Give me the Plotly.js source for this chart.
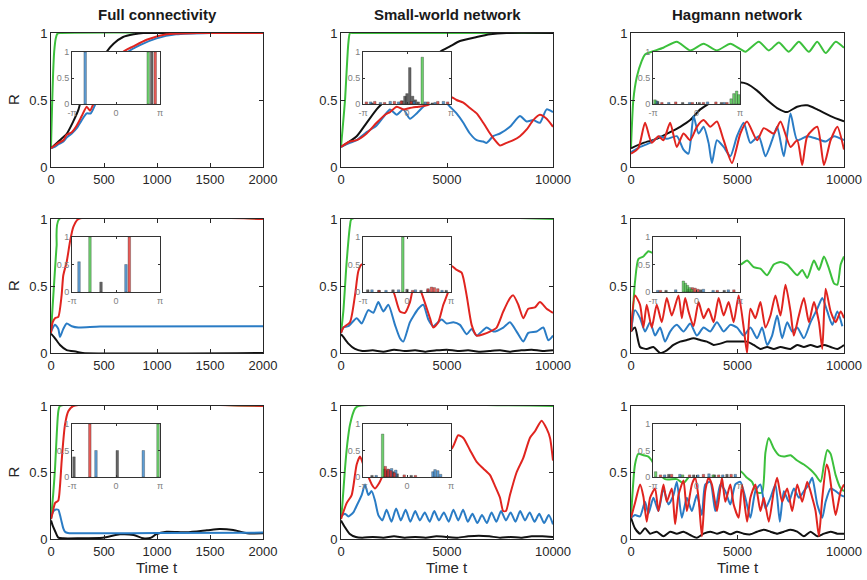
<!DOCTYPE html>
<html><head><meta charset="utf-8">
<script src="https://cdn.plot.ly/plotly-3.0.1.min.js"></script>
<style>html,body{margin:0;padding:0;background:#fff}#chart{width:867px;height:580px}</style>
</head><body><div id="chart"></div>
<script>
// ---------------- DATA ----------------
const colTitles = ['Full connectivity', 'Small-world network', 'Hagmann network'];
const xTicksFull = [0, 500, 1000, 1500, 2000];
const xTicksNet = [0, 5000, 10000];
const yTicks = [0, 0.5, 1];
const yTickText = ['0', '0.5', '1'];
const phaseTicks = ['-π', '0', 'π'];

// Row 1, Full connectivity
const fc1_green_t = [0, 10, 20, 30, 45, 60, 80, 2000];
const fc1_green_R = [0.15, 0.45, 0.7, 0.86, 0.96, 0.995, 1, 1];
const fc1_black_t = [0, 70, 150, 210, 260, 274, 350, 450, 525, 590, 680, 780, 870, 1000, 2000];
const fc1_black_R = [0.14, 0.19, 0.25, 0.34, 0.43, 0.47, 0.6, 0.76, 0.86, 0.92, 0.97, 0.99, 1, 1, 1];
const fc1_blue_t = [0, 35, 70, 117, 148, 196, 243, 290, 337, 375, 420, 500, 600, 729, 839, 996, 1180, 1500, 2000];
const fc1_blue_R = [0.14, 0.15, 0.17, 0.19, 0.22, 0.25, 0.29, 0.35, 0.4, 0.4, 0.47, 0.58, 0.72, 0.86, 0.91, 0.96, 0.99, 1, 1];
const fc1_red_t = [0, 35, 70, 117, 148, 196, 243, 290, 337, 368, 400, 500, 600, 682, 776, 902, 1090, 1400, 2000];
const fc1_red_R = [0.14, 0.16, 0.18, 0.2, 0.24, 0.26, 0.31, 0.38, 0.45, 0.42, 0.47, 0.6, 0.76, 0.86, 0.9, 0.95, 0.99, 1, 1];

// Row 1, Small-world
const sw1_green_t = [0, 100, 190, 345, 424, 600, 10000];
const sw1_green_R = [0.15, 0.33, 0.5, 0.92, 1, 1, 1];
const sw1_black_t = [0, 740, 1210, 1680, 1920, 2500, 3200, 4000, 4670, 5140, 5610, 6400, 7030, 7810, 10000];
const sw1_black_R = [0.15, 0.23, 0.33, 0.43, 0.47, 0.57, 0.68, 0.79, 0.86, 0.9, 0.94, 0.97, 0.99, 1, 1];
const sw1_blue_t = [0, 420, 740, 1210, 1680, 2080, 2310, 2630, 2940, 3250, 3570, 3880, 4200, 4510, 4830, 5140, 5450, 5770, 6080, 6400, 6710, 6870, 7180, 7500, 7970, 8440, 8760, 9070, 9380, 9700, 10000];
const sw1_blue_R = [0.15, 0.18, 0.2, 0.26, 0.31, 0.39, 0.43, 0.39, 0.43, 0.36, 0.4, 0.45, 0.49, 0.48, 0.5, 0.45, 0.4, 0.33, 0.25, 0.2, 0.19, 0.18, 0.23, 0.25, 0.3, 0.38, 0.34, 0.35, 0.33, 0.43, 0.41];
const sw1_red_t = [0, 420, 740, 1210, 1680, 2080, 2310, 2630, 2940, 3250, 3650, 4040, 4350, 4830, 5220, 5450, 5770, 6080, 6400, 6710, 7030, 7260, 7500, 7810, 8130, 8440, 8760, 9070, 9380, 9700, 10000];
const sw1_red_R = [0.15, 0.19, 0.2, 0.25, 0.33, 0.39, 0.41, 0.45, 0.43, 0.44, 0.45, 0.46, 0.48, 0.49, 0.52, 0.5, 0.48, 0.44, 0.4, 0.33, 0.25, 0.2, 0.16, 0.18, 0.2, 0.23, 0.28, 0.35, 0.39, 0.36, 0.3];

// Row 1, Hagmann
const hg1_green_t = [0, 110, 270, 500, 660, 970, 1520, 2150, 2780, 3410, 4030, 4660, 5134, 5370, 6000, 6470, 6940, 7410, 7880, 8350, 8745, 9140, 9610, 10000];
const hg1_green_R = [0.15, 0.5, 0.67, 0.79, 0.84, 0.86, 0.89, 0.935, 0.87, 0.92, 0.87, 0.92, 0.88, 0.86, 0.935, 0.87, 0.93, 0.86, 0.935, 0.86, 0.935, 0.85, 0.935, 0.89];
const hg1_black_t = [0, 580, 1210, 1840, 2310, 2780, 3250, 3720, 4400, 5130, 5450, 5920, 6390, 6860, 7330, 7800, 8270, 8740, 9370, 10000];
const hg1_black_R = [0.14, 0.18, 0.21, 0.26, 0.3, 0.35, 0.43, 0.48, 0.56, 0.63, 0.62, 0.57, 0.5, 0.44, 0.41, 0.45, 0.46, 0.43, 0.38, 0.34];
const hg1_blue_t = [0, 424, 895, 1366, 1680, 2150, 2465, 2700, 2936, 3171, 3407, 3642, 3800, 4035, 4349, 4663, 4977, 5291, 5605, 5997, 6311, 6625, 6861, 7175, 7489, 7803, 8274, 8745, 9137, 9530, 10000];
const hg1_blue_R = [0.11, 0.15, 0.18, 0.23, 0.21, 0.23, 0.13, 0.1, 0.38, 0.25, 0.3, 0.18, 0.03, 0.2, 0.15, 0.08, 0.23, 0.33, 0.18, 0.23, 0.08, 0.2, 0.3, 0.08, 0.4, 0.2, 0.23, 0.21, 0.19, 0.23, 0.2];
const hg1_red_t = [0, 345, 660, 973, 1287, 1523, 1837, 2150, 2465, 2779, 3093, 3407, 3721, 4035, 4349, 4741, 5134, 5448, 5919, 6233, 6704, 7018, 7489, 7803, 8038, 8274, 8745, 9059, 9373, 9687, 10000];
const hg1_red_R = [0.1, 0.14, 0.33, 0.18, 0.23, 0.2, 0.33, 0.15, 0.25, 0.2, 0.3, 0.35, 0.3, 0.34, 0.2, 0.03, 0.25, 0.34, 0.2, 0.29, 0.25, 0.34, 0.15, 0.2, 0.015, 0.23, 0.3, 0.015, 0.2, 0.3, 0.13];

// Row 2, Full connectivity
const fc2_green_t = [0, 10, 22, 40, 53, 78, 2000];
const fc2_green_R = [0.15, 0.28, 0.43, 0.65, 0.8, 1, 1];
const fc2_black_t = [0, 38, 85, 148, 242, 300, 2000];
const fc2_black_R = [0.145, 0.11, 0.06, 0.022, 0.01, 0.0, 0.0];
const fc2_blue_t = [0, 38, 69, 85, 116, 148, 196, 258, 462, 2000];
const fc2_blue_R = [0.16, 0.21, 0.18, 0.12, 0.18, 0.22, 0.2, 0.19, 0.197, 0.2];
const fc2_red_t = [0, 16, 38, 69, 100, 116, 148, 179, 210, 258, 2000];
const fc2_red_R = [0.15, 0.23, 0.26, 0.27, 0.43, 0.58, 0.68, 0.83, 0.94, 1, 1];

// Row 2, Small-world
const sw2_green_t = [0, 110, 267, 424, 500, 10000];
const sw2_green_R = [0.15, 0.31, 0.68, 0.95, 1, 1];
const sw2_black_t = [0, 110, 350, 660, 1000, 1500, 2000, 2500, 3000, 3500, 4000, 4500, 5000, 5500, 6000, 6500, 7000, 7500, 8000, 8500, 9000, 9500, 10000];
const sw2_black_R = [0.14, 0.12, 0.07, 0.03, 0.015, 0.02, 0.01, 0.025, 0.015, 0.02, 0.01, 0.02, 0.025, 0.015, 0.02, 0.01, 0.015, 0.02, 0.01, 0.02, 0.025, 0.015, 0.02];
const sw2_blue_t = [0, 110, 346, 739, 975, 1289, 1525, 1761, 1996, 2232, 2547, 2782, 2940, 3254, 3647, 3883, 4119, 4354, 4747, 4983, 5298, 5612, 5926, 6162, 6398, 6870, 7184, 7656, 7970, 8284, 8599, 8835, 9228, 9542, 9778, 10000];
const sw2_blue_R = [0.15, 0.19, 0.2, 0.26, 0.22, 0.32, 0.3, 0.38, 0.31, 0.36, 0.21, 0.11, 0.085, 0.23, 0.33, 0.36, 0.25, 0.2, 0.25, 0.22, 0.23, 0.21, 0.14, 0.18, 0.13, 0.19, 0.16, 0.19, 0.23, 0.16, 0.085, 0.15, 0.16, 0.19, 0.095, 0.13];
const sw2_red_t = [0, 110, 424, 660, 817, 975, 1525, 1996, 2468, 2782, 3018, 3254, 3411, 3647, 3883, 4197, 4354, 4590, 4826, 5062, 5219, 5455, 5691, 5926, 6162, 6398, 6714, 7027, 7341, 7656, 7970, 8127, 8363, 8599, 8835, 9149, 9385, 9699, 10000];
const sw2_red_R = [0.15, 0.19, 0.23, 0.43, 0.61, 0.66, 0.62, 0.55, 0.46, 0.31, 0.3, 0.38, 0.48, 0.5, 0.41, 0.26, 0.19, 0.23, 0.36, 0.46, 0.65, 0.62, 0.6, 0.43, 0.21, 0.13, 0.14, 0.16, 0.19, 0.31, 0.41, 0.43, 0.36, 0.26, 0.33, 0.34, 0.38, 0.33, 0.3];

// Row 2, Hagmann
const hg2_green_t = [0, 31, 188, 345, 580, 816, 973, 2000, 3000, 4000, 5134, 5448, 5762, 6076, 6390, 6704, 7018, 7332, 7803, 8038, 8274, 8588, 8823, 9059, 9294, 9530, 9687, 9844, 10000];
const hg2_green_R = [0.16, 0.19, 0.53, 0.7, 0.72, 0.76, 0.75, 0.72, 0.68, 0.7, 0.66, 0.69, 0.64, 0.63, 0.58, 0.66, 0.68, 0.66, 0.58, 0.62, 0.56, 0.69, 0.62, 0.72, 0.63, 0.52, 0.51, 0.66, 0.72];
const hg2_black_t = [0, 188, 424, 738, 1052, 1366, 1680, 1994, 2308, 2622, 2936, 3250, 3564, 3878, 4192, 4506, 4977, 5448, 5762, 6076, 6390, 6704, 7018, 7489, 7803, 8117, 8431, 8745, 9059, 9373, 9687, 10000];
const hg2_black_R = [0.16, 0.19, 0.045, 0.03, 0.045, 0.0, 0.02, 0.06, 0.085, 0.097, 0.11, 0.097, 0.085, 0.06, 0.07, 0.085, 0.085, 0.085, 0.06, 0.03, 0.045, 0.03, 0.045, 0.03, 0.06, 0.045, 0.06, 0.045, 0.06, 0.045, 0.03, 0.06];
const hg2_blue_t = [0, 188, 424, 659, 895, 1130, 1366, 1601, 1837, 2151, 2465, 2779, 3093, 3407, 3721, 4035, 4349, 4663, 4977, 5291, 5605, 5919, 6154, 6390, 6625, 6861, 7096, 7332, 7567, 7803, 8117, 8431, 8745, 8980, 9216, 9451, 9687, 9922];
const hg2_blue_R = [0.16, 0.32, 0.26, 0.16, 0.23, 0.13, 0.19, 0.085, 0.16, 0.21, 0.16, 0.22, 0.13, 0.19, 0.16, 0.23, 0.16, 0.21, 0.19, 0.13, 0.19, 0.11, 0.19, 0.06, 0.13, 0.28, 0.11, 0.23, 0.16, 0.19, 0.11, 0.23, 0.33, 0.41, 0.31, 0.21, 0.31, 0.2];
const hg2_red_t = [0, 188, 424, 581, 738, 973, 1209, 1444, 1680, 1915, 2229, 2386, 2543, 2700, 2936, 3171, 3407, 3642, 3878, 4113, 4349, 4584, 4820, 5055, 5291, 5448, 5605, 5840, 6076, 6311, 6547, 6782, 7018, 7253, 7489, 7646, 7881, 8117, 8352, 8588, 8823, 8980, 9137, 9373, 9608, 9844, 10000];
const hg2_red_R = [0.16, 0.43, 0.36, 0.19, 0.36, 0.19, 0.36, 0.23, 0.41, 0.28, 0.43, 0.26, 0.41, 0.31, 0.2, 0.38, 0.26, 0.33, 0.23, 0.41, 0.28, 0.38, 0.23, 0.43, 0.19, 0.0, 0.33, 0.26, 0.38, 0.19, 0.28, 0.43, 0.28, 0.51, 0.31, 0.13, 0.28, 0.41, 0.23, 0.38, 0.23, 0.03, 0.48, 0.31, 0.23, 0.31, 0.26];

// Row 3, Full connectivity
const fc3_green_t = [0, 20, 38, 55, 69, 85, 2000];
const fc3_green_R = [0.15, 0.33, 0.53, 0.8, 0.96, 1, 1];
const fc3_black_t = [0, 16, 38, 69, 116, 250, 490, 650, 780, 870, 945, 990, 1090, 1280, 1470, 1590, 1720, 1850, 2000];
const fc3_black_R = [0.14, 0.1, 0.06, 0.01, 0.005, 0.005, 0.01, 0.035, 0.03, 0.005, 0.01, 0.035, 0.055, 0.05, 0.065, 0.075, 0.067, 0.043, 0.043];
const fc3_blue_t = [0, 16, 38, 69, 85, 100, 116, 132, 160, 220, 500, 1000, 2000];
const fc3_blue_R = [0.15, 0.2, 0.22, 0.22, 0.18, 0.13, 0.08, 0.055, 0.045, 0.043, 0.043, 0.045, 0.048];
const fc3_red_t = [0, 16, 38, 69, 85, 100, 116, 132, 163, 210, 2000];
const fc3_red_R = [0.15, 0.2, 0.27, 0.29, 0.4, 0.58, 0.74, 0.86, 0.96, 1, 1];

// Row 3, Small-world
const sw3_green_t = [0, 60, 189, 300, 424, 660, 817, 10000];
const sw3_green_R = [0.15, 0.25, 0.53, 0.72, 0.86, 0.98, 1, 1];
const sw3_black_t = [0, 180, 400, 700, 1000, 1500, 2000, 2500, 3000, 3500, 4000, 4500, 5000, 5500, 6000, 6500, 7000, 7500, 8000, 8500, 9000, 9500, 10000];
const sw3_black_R = [0.14, 0.09, 0.04, 0.015, 0.01, 0.015, 0.01, 0.02, 0.01, 0.015, 0.01, 0.02, 0.015, 0.01, 0.02, 0.025, 0.02, 0.01, 0.015, 0.01, 0.02, 0.02, 0.015];
const sw3_blue_t = [0, 189, 346, 582, 739, 975, 1132, 1289, 1446, 1603, 1761, 1950, 2150, 2380, 2600, 2820, 3050, 3270, 3500, 3720, 3950, 4180, 4400, 4620, 4850, 5080, 5300, 5530, 5760, 5980, 6200, 6430, 6650, 6880, 7100, 7330, 7550, 7780, 8000, 8230, 8450, 8680, 8900, 9130, 9350, 9580, 9800, 10000];
const sw3_blue_R = [0.17, 0.19, 0.17, 0.2, 0.25, 0.33, 0.41, 0.33, 0.36, 0.29, 0.18, 0.14, 0.22, 0.13, 0.23, 0.14, 0.22, 0.13, 0.21, 0.14, 0.2, 0.13, 0.21, 0.14, 0.2, 0.13, 0.22, 0.14, 0.22, 0.13, 0.19, 0.12, 0.18, 0.12, 0.2, 0.13, 0.21, 0.14, 0.2, 0.13, 0.21, 0.14, 0.2, 0.13, 0.19, 0.12, 0.18, 0.11];
const sw3_red_t = [0, 267, 503, 739, 896, 1050, 1210, 1450, 1610, 1800, 2200, 2600, 3020, 3400, 4000, 4600, 5220, 5530, 5770, 6080, 6400, 6710, 7030, 7260, 7500, 7650, 7780, 7970, 8280, 8600, 8910, 9150, 9460, 9700, 9860, 10000];
const sw3_red_R = [0.15, 0.27, 0.33, 0.56, 0.62, 0.56, 0.5, 0.41, 0.38, 0.42, 0.55, 0.6, 0.47, 0.58, 0.65, 0.7, 0.68, 0.78, 0.76, 0.67, 0.58, 0.53, 0.48, 0.4, 0.31, 0.21, 0.21, 0.33, 0.5, 0.61, 0.76, 0.81, 0.89, 0.83, 0.76, 0.59];

// Row 3, Hagmann
const hg3_green_t = [0, 188, 345, 581, 816, 973, 1209, 1601, 2151, 2465, 2779, 3407, 4349, 5134, 5448, 5683, 5919, 6154, 6311, 6468, 6704, 6939, 7175, 7489, 7803, 8117, 8431, 8666, 8902, 9059, 9216, 9373, 9608, 9844, 10000];
const hg3_green_R = [0.16, 0.56, 0.64, 0.63, 0.62, 0.59, 0.52, 0.45, 0.45, 0.42, 0.48, 0.55, 0.5, 0.51, 0.46, 0.43, 0.35, 0.35, 0.65, 0.76, 0.68, 0.63, 0.62, 0.63, 0.59, 0.56, 0.52, 0.48, 0.43, 0.56, 0.67, 0.64, 0.48, 0.38, 0.36];
const hg3_black_t = [0, 188, 424, 659, 895, 1209, 1523, 1837, 2151, 2465, 2779, 3093, 3407, 3721, 4035, 4349, 4663, 4977, 5291, 5605, 5919, 6233, 6547, 6861, 7175, 7489, 7803, 8117, 8431, 8745, 9059, 9373, 9687, 10000];
const hg3_black_R = [0.16, 0.08, 0.04, 0.08, 0.04, 0.055, 0.02, 0.055, 0.04, 0.055, 0.03, 0.01, 0.04, 0.055, 0.04, 0.055, 0.035, 0.055, 0.04, 0.035, 0.055, 0.07, 0.055, 0.04, 0.055, 0.07, 0.055, 0.02, 0.055, 0.02, 0.04, 0.055, 0.04, 0.04];
const hg3_blue_t = [0, 188, 424, 659, 816, 1052, 1287, 1523, 1758, 1994, 2151, 2386, 2622, 2857, 3093, 3328, 3485, 3721, 3956, 4192, 4427, 4663, 4898, 5134, 5369, 5605, 5840, 6076, 6311, 6547, 6782, 6987, 7175, 7410, 7646, 7881, 8117, 8352, 8509, 8745, 8980, 9137, 9373, 9608, 9844, 10000];
const hg3_blue_R = [0.16, 0.18, 0.17, 0.28, 0.19, 0.31, 0.21, 0.38, 0.26, 0.33, 0.43, 0.16, 0.31, 0.21, 0.33, 0.18, 0.41, 0.43, 0.21, 0.41, 0.36, 0.26, 0.41, 0.43, 0.31, 0.16, 0.36, 0.41, 0.23, 0.31, 0.41, 0.13, 0.36, 0.28, 0.38, 0.31, 0.36, 0.41, 0.46, 0.26, 0.16, 0.28, 0.38, 0.36, 0.33, 0.32];
const hg3_red_t = [0, 188, 424, 581, 738, 895, 1130, 1287, 1523, 1680, 1915, 2072, 2229, 2465, 2622, 2857, 3014, 3171, 3328, 3485, 3642, 3799, 4035, 4270, 4427, 4663, 4820, 5055, 5212, 5448, 5605, 5840, 6076, 6233, 6468, 6704, 6861, 7096, 7332, 7567, 7803, 8038, 8274, 8509, 8666, 8823, 8980, 9184, 9294, 9451, 9608, 9844, 10000];
const hg3_red_R = [0.16, 0.27, 0.41, 0.32, 0.13, 0.31, 0.38, 0.21, 0.41, 0.28, 0.38, 0.11, 0.33, 0.44, 0.21, 0.41, 0.46, 0.31, 0.02, 0.36, 0.46, 0.41, 0.21, 0.46, 0.28, 0.41, 0.26, 0.16, 0.41, 0.13, 0.31, 0.41, 0.21, 0.31, 0.13, 0.36, 0.46, 0.28, 0.38, 0.21, 0.41, 0.28, 0.43, 0.31, 0.21, 0.02, 0.31, 0.56, 0.51, 0.33, 0.18, 0.36, 0.41];

// Inset phase histograms: [phase (rad), fraction]
const ins_fc1_black = [[2.55, 1]];
const ins_fc1_blue = [[-2.2, 1]];
const ins_fc1_red = [[2.8, 1]];
const ins_fc1_green = [[2.3, 1]];
const ins_sw1_black = [[-2.5, 0.02], [-0.35, 0.06], [-0.15, 0.15], [0.0, 0.2], [0.2, 0.7], [0.4, 0.15], [0.6, 0.08], [0.8, 0.04], [1.8, 0.02]];
const ins_sw1_blue = [[-2.6, 0.04], [-1.9, 0.03], [-1.2, 0.05], [-0.6, 0.04], [0.5, 0.05], [1.3, 0.04], [2.0, 0.03], [2.6, 0.05]];
const ins_sw1_red = [[-2.9, 0.04], [-2.3, 0.05], [-1.6, 0.03], [-0.9, 0.05], [-0.4, 0.06], [0.3, 0.05], [1.5, 0.04], [2.2, 0.05], [2.9, 0.04]];
const ins_sw1_green = [[1.09, 0.9]];
const ins_hg1_black = [[-2.8, 0.05], [-1.0, 0.03], [0.2, 0.03], [1.8, 0.03]];
const ins_hg1_blue = [[-2.9, 0.06], [-2.0, 0.03], [-0.5, 0.03], [0.8, 0.04], [2.0, 0.03]];
const ins_hg1_red = [[-2.5, 0.03], [-1.5, 0.04], [-0.3, 0.03], [0.5, 0.03], [1.4, 0.04], [2.2, 0.03]];
const ins_hg1_green = [[-3.0, 0.08], [2.5, 0.1], [2.7, 0.2], [2.9, 0.25], [3.05, 0.18]];
const ins_fc2_black = [[-1.07, 0.18]];
const ins_fc2_blue = [[-2.64, 0.55], [0.71, 0.5]];
const ins_fc2_red = [[0.95, 1]];
const ins_fc2_green = [[-1.86, 1]];
const ins_sw2_black = [[-2.8, 0.04], [-2.0, 0.03], [-1.0, 0.04], [0.0, 0.05], [1.0, 0.03], [2.8, 0.03]];
const ins_sw2_blue = [[-2.5, 0.04], [-1.5, 0.03], [-0.6, 0.04], [0.6, 0.04], [1.5, 0.04], [2.5, 0.03]];
const ins_sw2_red = [[-2.0, 0.03], [0.4, 0.03], [1.5, 0.06], [1.75, 0.09], [1.95, 0.08], [2.2, 0.06]];
const ins_sw2_green = [[-0.3, 1]];
const ins_hg2_black = [[-2.2, 0.03], [-0.6, 0.05], [0.3, 0.04], [2.0, 0.03]];
const ins_hg2_blue = [[-2.8, 0.03], [-1.5, 0.04], [0.5, 0.05], [1.2, 0.03], [2.3, 0.04]];
const ins_hg2_red = [[-2.6, 0.03], [-0.3, 0.08], [-0.1, 0.07], [0.1, 0.05], [1.5, 0.03], [2.7, 0.04]];
const ins_hg2_green = [[-0.95, 0.2], [-0.8, 0.16], [-0.65, 0.12], [-0.5, 0.08], [-0.35, 0.05]];
const ins_fc3_black = [[-3.0, 0.38], [0.09, 0.5]];
const ins_fc3_blue = [[-1.43, 0.5], [1.95, 0.5]];
const ins_fc3_red = [[-1.87, 1]];
const ins_fc3_green = [[3.0, 1]];
const ins_sw3_black = [[-2.5, 0.03], [-1.6, 0.15], [-1.4, 0.12], [-1.0, 0.1], [-0.7, 0.06], [0.3, 0.03]];
const ins_sw3_blue = [[-2.2, 0.03], [-1.3, 0.14], [-1.1, 0.16], [-0.8, 0.13], [1.85, 0.1], [2.0, 0.14], [2.2, 0.12], [2.4, 0.05]];
const ins_sw3_red = [[-1.55, 0.2], [-1.35, 0.15], [-1.15, 0.12], [-0.9, 0.08], [-0.2, 0.04], [0.6, 0.03]];
const ins_sw3_green = [[-1.74, 0.81]];
const ins_hg3_black = [[-2.0, 0.05], [-0.2, 0.04], [1.3, 0.04], [2.2, 0.05]];
const ins_hg3_blue = [[-2.3, 0.04], [-1.2, 0.05], [0.1, 0.04], [0.9, 0.06], [1.9, 0.04], [2.8, 0.05]];
const ins_hg3_red = [[-2.6, 0.04], [-1.8, 0.05], [-0.5, 0.04], [0.5, 0.05], [1.6, 0.04], [2.5, 0.05]];
const ins_hg3_green = [[-2.95, 0.1], [-1.0, 0.04], [1.2, 0.04]];

// ---------------- ASSEMBLY ----------------
const panels = [
  {xr: 2000, xt: xTicksFull, t: {green: fc1_green_t, black: fc1_black_t, blue: fc1_blue_t, red: fc1_red_t}, R: {green: fc1_green_R, black: fc1_black_R, blue: fc1_blue_R, red: fc1_red_R}, ins: {black: ins_fc1_black, blue: ins_fc1_blue, red: ins_fc1_red, green: ins_fc1_green}},
  {xr: 10000, xt: xTicksNet, t: {green: sw1_green_t, black: sw1_black_t, blue: sw1_blue_t, red: sw1_red_t}, R: {green: sw1_green_R, black: sw1_black_R, blue: sw1_blue_R, red: sw1_red_R}, ins: {black: ins_sw1_black, blue: ins_sw1_blue, red: ins_sw1_red, green: ins_sw1_green}},
  {xr: 10000, xt: xTicksNet, t: {green: hg1_green_t, black: hg1_black_t, blue: hg1_blue_t, red: hg1_red_t}, R: {green: hg1_green_R, black: hg1_black_R, blue: hg1_blue_R, red: hg1_red_R}, ins: {black: ins_hg1_black, blue: ins_hg1_blue, red: ins_hg1_red, green: ins_hg1_green}},
  {xr: 2000, xt: xTicksFull, t: {green: fc2_green_t, black: fc2_black_t, blue: fc2_blue_t, red: fc2_red_t}, R: {green: fc2_green_R, black: fc2_black_R, blue: fc2_blue_R, red: fc2_red_R}, ins: {black: ins_fc2_black, blue: ins_fc2_blue, red: ins_fc2_red, green: ins_fc2_green}},
  {xr: 10000, xt: xTicksNet, t: {green: sw2_green_t, black: sw2_black_t, blue: sw2_blue_t, red: sw2_red_t}, R: {green: sw2_green_R, black: sw2_black_R, blue: sw2_blue_R, red: sw2_red_R}, ins: {black: ins_sw2_black, blue: ins_sw2_blue, red: ins_sw2_red, green: ins_sw2_green}},
  {xr: 10000, xt: xTicksNet, t: {green: hg2_green_t, black: hg2_black_t, blue: hg2_blue_t, red: hg2_red_t}, R: {green: hg2_green_R, black: hg2_black_R, blue: hg2_blue_R, red: hg2_red_R}, ins: {black: ins_hg2_black, blue: ins_hg2_blue, red: ins_hg2_red, green: ins_hg2_green}},
  {xr: 2000, xt: xTicksFull, t: {green: fc3_green_t, black: fc3_black_t, blue: fc3_blue_t, red: fc3_red_t}, R: {green: fc3_green_R, black: fc3_black_R, blue: fc3_blue_R, red: fc3_red_R}, ins: {black: ins_fc3_black, blue: ins_fc3_blue, red: ins_fc3_red, green: ins_fc3_green}},
  {xr: 10000, xt: xTicksNet, t: {green: sw3_green_t, black: sw3_black_t, blue: sw3_blue_t, red: sw3_red_t}, R: {green: sw3_green_R, black: sw3_black_R, blue: sw3_blue_R, red: sw3_red_R}, ins: {black: ins_sw3_black, blue: ins_sw3_blue, red: ins_sw3_red, green: ins_sw3_green}},
  {xr: 10000, xt: xTicksNet, t: {green: hg3_green_t, black: hg3_black_t, blue: hg3_blue_t, red: hg3_red_t}, R: {green: hg3_green_R, black: hg3_black_R, blue: hg3_blue_R, red: hg3_red_R}, ins: {black: ins_hg3_black, blue: ins_hg3_blue, red: ins_hg3_red, green: ins_hg3_green}}
];

const W = 867, H = 580;
const FONT = 'Liberation Sans, Arial, Helvetica, sans-serif';
const LINE = {green: '#3cc03c', black: '#111111', blue: '#2a7cc5', red: '#e0241f'};
const BAR = {green: 'rgba(60,192,60,0.75)', black: 'rgba(50,50,50,0.75)', blue: 'rgba(42,124,197,0.75)', red: 'rgba(224,36,31,0.75)'};
const boxX = [[51, 263], [341, 553], [631, 844]];
const boxY = [[33, 167], [219, 353], [406, 539]];
const insX = [[72, 160], [363, 451], [653, 740]];
const insY = [[52, 104], [237, 292], [424, 477]];
const sfx = n => (n === 1 ? '' : String(n));
const dx = p => [p[0] / W, p[1] / W];
const dy = p => [1 - p[1] / H, 1 - p[0] / H];

const traces = [];
panels.forEach((p, i) => {
  const n = i + 1;
  ['green', 'black', 'blue', 'red'].forEach(c => {
    traces.push({type: 'scatter', mode: 'lines', x: p.t[c], y: p.R[c],
      xaxis: 'x' + sfx(n), yaxis: 'y' + sfx(n),
      line: {color: LINE[c], width: 2, shape: 'spline', smoothing: 0.6}, hoverinfo: 'skip'});
  });
});
panels.forEach((p, i) => {
  const n = i + 10;
  ['black', 'blue', 'red', 'green'].forEach(c => {
    const pts = p.ins[c];
    traces.push({type: 'bar', x: pts.map(q => q[0]), y: pts.map(q => q[1]), width: 0.18,
      xaxis: 'x' + n, yaxis: 'y' + n,
      marker: {color: BAR[c], line: {color: 'rgba(30,30,30,0.6)', width: 0.5}}, hoverinfo: 'skip'});
  });
});

const layout = {
  width: W, height: H, margin: {l: 0, r: 0, t: 0, b: 0},
  paper_bgcolor: '#ffffff', plot_bgcolor: '#ffffff',
  showlegend: false, barmode: 'overlay', bargap: 0,
  font: {family: FONT, color: '#262626'},
  annotations: []
};
const axBase = {ticks: 'inside', showline: true, mirror: 'ticks', linecolor: '#262626', tickcolor: '#262626',
  linewidth: 1, showgrid: false, zeroline: false, fixedrange: true};

panels.forEach((p, i) => {
  const r = Math.floor(i / 3), c = i % 3, n = i + 1;
  layout['xaxis' + sfx(n)] = Object.assign({}, axBase, {domain: dx(boxX[c]), range: [0, p.xr], anchor: 'y' + sfx(n),
    tickvals: p.xt, ticktext: p.xt.map(String), ticklen: 4, tickfont: {family: FONT, size: 13, color: '#262626'}});
  layout['yaxis' + sfx(n)] = Object.assign({}, axBase, {domain: dy(boxY[r]), range: [0, 1], anchor: 'x' + sfx(n),
    tickvals: yTicks, ticktext: yTickText, ticklen: 4, tickfont: {family: FONT, size: 13, color: '#262626'}});
  const m = i + 10;
  layout['xaxis' + m] = Object.assign({}, axBase, {domain: dx(insX[c]), range: [-Math.PI, Math.PI], anchor: 'y' + m,
    tickvals: [-Math.PI, 0, Math.PI], ticktext: phaseTicks, ticklen: 2, linecolor: '#333', tickcolor: '#333',
    tickfont: {family: FONT, size: 9, color: '#808080'}});
  layout['yaxis' + m] = Object.assign({}, axBase, {domain: dy(insY[r]), range: [0, 1], anchor: 'x' + m,
    tickvals: yTicks, ticktext: yTickText, ticklen: 2, linecolor: '#333', tickcolor: '#333',
    tickfont: {family: FONT, size: 9, color: '#808080'}});
});

colTitles.forEach((t, c) => {
  const cx = (boxX[c][0] + boxX[c][1]) / 2 / W;
  layout.annotations.push({text: '<b>' + t + '</b>', x: cx, y: 1 - 15 / H, xref: 'paper', yref: 'paper',
    xanchor: 'center', yanchor: 'middle', showarrow: false, font: {family: FONT, size: 15, color: '#1a1a1a'}});
  layout.annotations.push({text: 'Time t', x: cx, y: 1 - 567 / H, xref: 'paper', yref: 'paper',
    xanchor: 'center', yanchor: 'middle', showarrow: false, font: {family: FONT, size: 15, color: '#262626'}});
});
boxY.forEach(b => {
  layout.annotations.push({text: 'R', x: 13 / W, y: 1 - (b[0] + b[1]) / 2 / H, xref: 'paper', yref: 'paper',
    xanchor: 'center', yanchor: 'middle', textangle: -90, showarrow: false, font: {family: FONT, size: 15, color: '#262626'}});
});

Plotly.newPlot('chart', traces, layout, {staticPlot: true, displayModeBar: false});
</script>
</body></html>
